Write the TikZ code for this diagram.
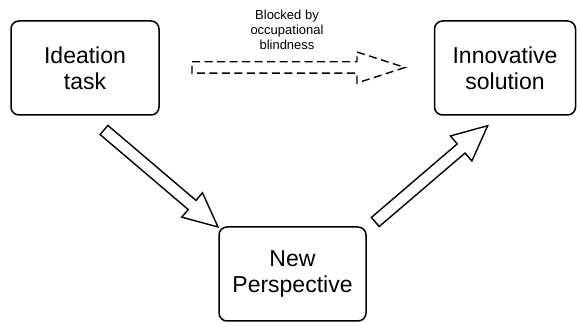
\documentclass[tikz,border=0pt]{standalone}
\usepackage{fontspec}
\setmainfont{Liberation Sans}
\usetikzlibrary{calc}
\tikzset{
  box/.style={draw, rounded corners=8pt, line width=1.5pt, align=center,
    font=\fontsize{23pt}{26pt}\selectfont, inner sep=0pt},
  blockarrow/.style={draw, line width=1.4pt, fill=white, line join=miter},
  dashedarrow/.style={draw, line width=1.4pt, dash pattern=on 8pt off 4.5pt, line join=miter},
  lbl/.style={align=center, font=\fontsize{13pt}{15pt}\selectfont, inner sep=0pt}
}
\newcommand{\blockarr}[6]{%
  \coordinate (H) at ($(#2)!#5!(#1)$);
  \draw[#6] ($(#1)!#3!90:(#2)$) -- ($(H)!#3!90:(#2)$) -- ($(H)!#4!90:(#2)$) -- (#2)
    -- ($(H)!#4!-90:(#2)$) -- ($(H)!#3!-90:(#2)$) -- ($(#1)!#3!-90:(#2)$) -- cycle;}
\begin{document}
\begin{tikzpicture}[x=1pt,y=1pt]
\useasboundingbox (0,0) rectangle (577,323);
\node[box, minimum width=148pt, minimum height=94pt] (ideation) at (85,255) {Ideation\\task};
\node[box, minimum width=141pt, minimum height=94pt] (innov) at (505,255) {Innovative\\solution};
\node[box, minimum width=147pt, minimum height=94pt] (newp) at (292.5,49) {New\\Perspective};
\node[lbl] (blocked) at (287,293) {Blocked by\\occupational\\blindness};
% down arrow
\coordinate (d1) at (104,193);
\coordinate (d2) at (218,96);
\blockarr{d1}{d2}{6pt}{16pt}{34pt}{blockarrow}
% up arrow
\coordinate (u1) at (375.3,101);
\coordinate (u2) at (487.7,197.3);
\blockarr{u1}{u2}{6pt}{16.5pt}{35pt}{blockarrow}
% dashed arrow
\coordinate (h1) at (192,255.5);
\coordinate (h2) at (405,255.5);
\blockarr{h1}{h2}{5.7pt}{15.5pt}{48pt}{dashedarrow}
\end{tikzpicture}
\end{document}
